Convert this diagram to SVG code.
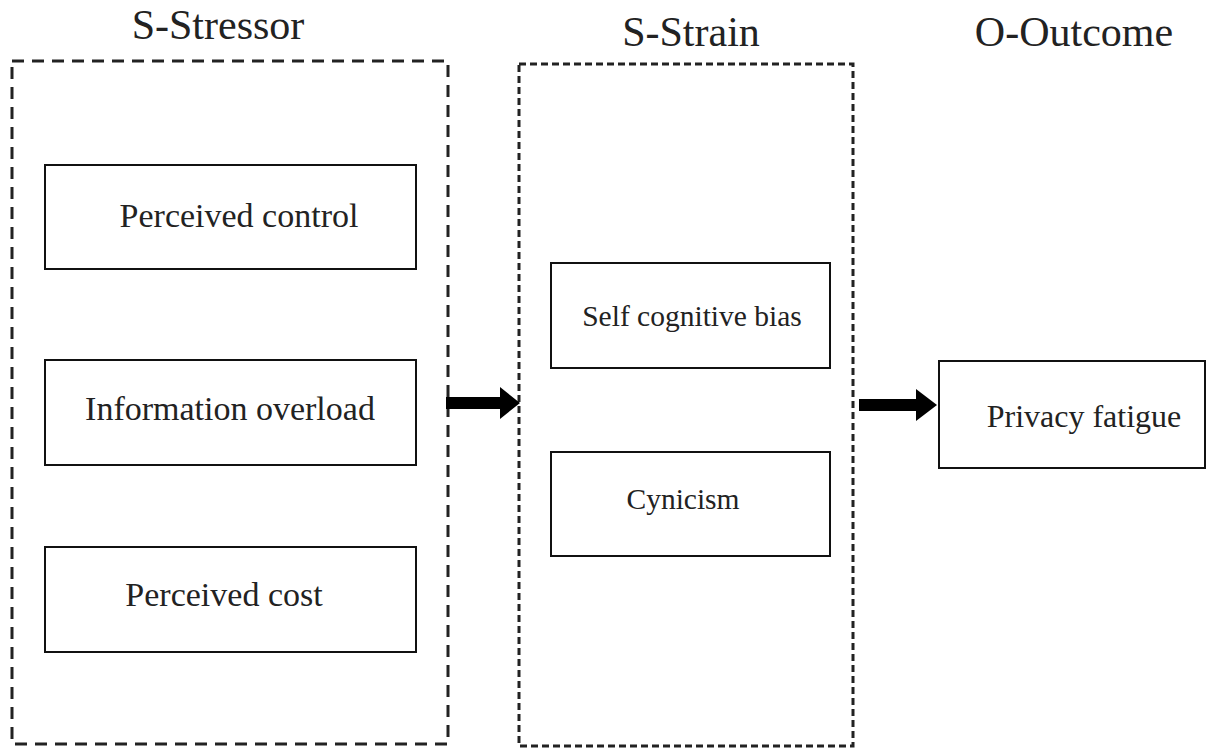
<svg xmlns="http://www.w3.org/2000/svg" width="1217" height="749" viewBox="0 0 1217 749">
<style>
.bg{fill:#fff}
.grp{fill:none;stroke:#222;stroke-width:3}
.g1{stroke-dasharray:12 8}
.g2{stroke-dasharray:7 4}
.box{fill:#fff;stroke:#111;stroke-width:2}
.title{font-family:"Liberation Serif",serif;font-size:42px;fill:#222;text-anchor:middle}
.lbl{font-family:"Liberation Serif",serif;font-size:34px;fill:#222;text-anchor:middle}
.lbl2{font-family:"Liberation Serif",serif;font-size:29.5px;fill:#222;text-anchor:middle}
.lbl3{font-family:"Liberation Serif",serif;font-size:32px;fill:#222;text-anchor:middle}
.arr{fill:#000}
</style>
<rect class="bg" x="0" y="0" width="1217" height="749"/>
<g id="stressor">
<rect class="grp g1" x="12" y="61" width="436" height="683"/>
<text class="title" x="218" y="39">S-Stressor</text>
</g>
<g id="strain">
<rect class="grp g2" x="519" y="64" width="334" height="682"/>
<text class="title" x="691" y="46">S-Strain</text>
</g>
<g id="outcome">
<text class="title" x="1074" y="46">O-Outcome</text>
</g>
<g id="perceived-control">
<rect class="box" x="45" y="165" width="371" height="104"/>
<text class="lbl" x="239" y="227">Perceived control</text>
</g>
<g id="information-overload">
<rect class="box" x="45" y="360" width="371" height="105"/>
<text class="lbl" x="230" y="420">Information overload</text>
</g>
<g id="perceived-cost">
<rect class="box" x="45" y="547" width="371" height="105"/>
<text class="lbl" x="224" y="606">Perceived cost</text>
</g>
<g id="self-cognitive-bias">
<rect class="box" x="551" y="263" width="279" height="105"/>
<text class="lbl2" x="692" y="326">Self cognitive bias</text>
</g>
<g id="cynicism">
<rect class="box" x="551" y="452" width="279" height="104"/>
<text class="lbl2" x="683" y="509">Cynicism</text>
</g>
<g id="privacy-fatigue">
<rect class="box" x="939" y="361" width="266" height="107"/>
<text class="lbl3" x="1084" y="427">Privacy fatigue</text>
</g>
<g id="connectors">
<polygon class="arr" points="446,397 500,397 500,387 520,403 500,419 500,409 446,409"/>
<polygon class="arr" points="859,399 916,399 916,389 937,405 916,421 916,411 859,411"/>
</g>
</svg>
